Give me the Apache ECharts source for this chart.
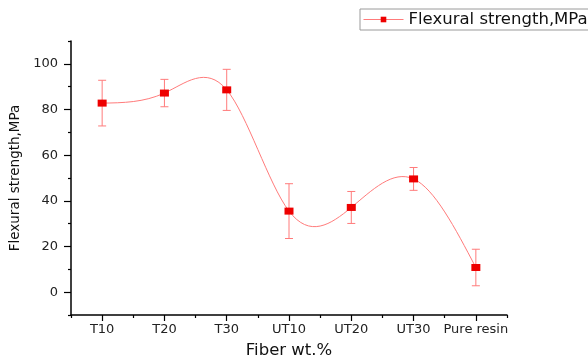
<!DOCTYPE html>
<html>
<head>
<meta charset="utf-8">
<script src="https://cdn.jsdelivr.net/npm/echarts@6/dist/echarts.min.js"></script>
<style>html,body{margin:0;padding:0;background:#fff;}#c{width:588px;height:364px;}</style>
</head>
<body>
<div id="c"></div>
<script>
var categories = ['T10', 'T20', 'T30', 'UT10', 'UT20', 'UT30', 'Pure resin'];
var strength = [82.8, 87.2, 88.6, 35.5, 37.1, 49.6, 10.8];
var errors = [10, 6, 9, 12, 7, 5, 8];
var yMajorTicks = [0, 20, 40, 60, 80, 100];
var yMinorTicks = [-10, 10, 30, 50, 70, 90, 110];
var seriesName = 'Flexural strength,MPa';

var lineColor = '#ff7b7b';
var markColor = '#ee0000';
var font = 'DejaVu Sans, Liberation Sans, Arial, sans-serif';

var chart = echarts.init(document.getElementById('c'));

function splinePath(pts) {
  var n = pts.length;
  if (n < 2) return '';
  var h = pts[1][0] - pts[0][0];
  var y = pts.map(function (p) { return p[1]; });
  var M = new Array(n).fill(0);
  var a = [], b = [], c = [], d = [];
  for (var i = 1; i < n - 1; i++) {
    a.push(1); b.push(4); c.push(1);
    d.push(6 * (y[i + 1] - 2 * y[i] + y[i - 1]) / (h * h));
  }
  var m = d.length;
  for (var k = 1; k < m; k++) {
    var w = a[k] / b[k - 1];
    b[k] -= w * c[k - 1];
    d[k] -= w * d[k - 1];
  }
  var sol = new Array(m);
  for (var k2 = m - 1; k2 >= 0; k2--) {
    sol[k2] = (d[k2] - (k2 < m - 1 ? c[k2] * sol[k2 + 1] : 0)) / b[k2];
  }
  for (var j = 0; j < m; j++) M[j + 1] = sol[j];
  var path = 'M' + pts[0][0] + ' ' + pts[0][1];
  for (var s = 0; s < n - 1; s++) {
    var x0 = pts[s][0], x1 = pts[s + 1][0];
    var hh = x1 - x0;
    var slope = (y[s + 1] - y[s]) / hh;
    var d0 = slope - hh * (2 * M[s] + M[s + 1]) / 6;
    var d1 = slope + hh * (M[s] + 2 * M[s + 1]) / 6;
    path += ' C' + (x0 + hh / 3) + ' ' + (y[s] + d0 * hh / 3) + ' ' +
      (x1 - hh / 3) + ' ' + (y[s + 1] - d1 * hh / 3) + ' ' + x1 + ' ' + y[s + 1];
  }
  return path;
}

var errData = strength.map(function (v, i) { return [i, v - errors[i], v + errors[i]]; });

var option = {
  animation: false,
  backgroundColor: '#fff',
  textStyle: { fontFamily: font },
  grid: { left: 71, right: 81, top: 41, bottom: 46, containLabel: false },
  legend: {
    left: 360, top: 9,
    padding: [2, 8, 2, 3],
    borderColor: '#9a9a9a', borderWidth: 1,
    itemWidth: 40, itemHeight: 7, itemGap: 6,
    textStyle: { fontSize: 16.5, color: '#111', fontFamily: font },
    data: [{
      name: seriesName,
      itemStyle: { color: markColor },
      lineStyle: { color: lineColor, width: 1, opacity: 1 }
    }]
  },
  xAxis: [{
    type: 'category',
    data: categories,
    boundaryGap: true,
    name: 'Fiber wt.%',
    nameLocation: 'middle',
    nameGap: 27,
    nameTextStyle: { fontSize: 16.5, color: '#111', fontFamily: font },
    axisLine: { onZero: false, lineStyle: { color: '#000', width: 1.5 } },
    axisTick: { show: true, alignWithLabel: false, length: 3, lineStyle: { color: '#000', width: 1.2 } },
    axisLabel: { fontSize: 13, color: '#222', margin: 8, interval: 0, fontFamily: font },
    splitLine: { show: false }
  }, {
    type: 'category',
    data: categories,
    boundaryGap: true,
    position: 'bottom',
    axisLine: { show: false, onZero: false },
    axisTick: { show: true, alignWithLabel: true, length: 6, interval: 0, lineStyle: { color: '#000', width: 1.2 } },
    axisLabel: { show: false },
    splitLine: { show: false }
  }],
  yAxis: [{
    type: 'value',
    min: -10, max: 110,
    name: 'Flexural strength,MPa',
    nameLocation: 'middle',
    nameGap: 40,
    nameTextStyle: { fontSize: 13.5, color: '#111', fontFamily: font },
    axisLine: { show: true, onZero: false, lineStyle: { color: '#000', width: 1.5 } },
    axisTick: { show: true, length: 7, customValues: yMajorTicks, lineStyle: { color: '#000', width: 1.2 } },
    axisLabel: { fontSize: 13, color: '#222', margin: 13, customValues: yMajorTicks, fontFamily: font },
    splitLine: { show: false }
  }, {
    type: 'value',
    min: -10, max: 110,
    position: 'left',
    axisLine: { show: false, onZero: false },
    axisTick: { show: true, length: 3, customValues: yMinorTicks, lineStyle: { color: '#000', width: 1.2 } },
    axisLabel: { show: false },
    splitLine: { show: false }
  }],
  series: [{
    type: 'custom',
    name: 'curve',
    xAxisIndex: 0, yAxisIndex: 0,
    data: [0],
    silent: true,
    z: 2,
    renderItem: function (params, api) {
      var pts = strength.map(function (v, i) { return api.coord([i, v]); });
      return {
        type: 'path',
        shape: { pathData: splinePath(pts) },
        style: { stroke: lineColor, fill: 'none', lineWidth: 1 }
      };
    }
  }, {
    type: 'custom',
    name: 'error',
    xAxisIndex: 0, yAxisIndex: 0,
    data: errData,
    silent: true,
    z: 3,
    renderItem: function (params, api) {
      var lo = api.coord([api.value(0), api.value(1)]);
      var hi = api.coord([api.value(0), api.value(2)]);
      var cap = 4;
      var st = { stroke: lineColor, lineWidth: 1 };
      return {
        type: 'group',
        children: [
          { type: 'line', shape: { x1: hi[0], y1: hi[1], x2: lo[0], y2: lo[1] }, style: st },
          { type: 'line', shape: { x1: hi[0] - cap, y1: hi[1], x2: hi[0] + cap, y2: hi[1] }, style: st },
          { type: 'line', shape: { x1: lo[0] - cap, y1: lo[1], x2: lo[0] + cap, y2: lo[1] }, style: st }
        ]
      };
    }
  }, {
    type: 'line',
    name: seriesName,
    xAxisIndex: 0, yAxisIndex: 0,
    data: strength,
    symbol: 'rect',
    symbolSize: [9, 7],
    showSymbol: true,
    itemStyle: { color: markColor },
    lineStyle: { opacity: 0, color: lineColor, width: 1 },
    z: 5
  }]
};
chart.setOption(option);
</script>
</body>
</html>
